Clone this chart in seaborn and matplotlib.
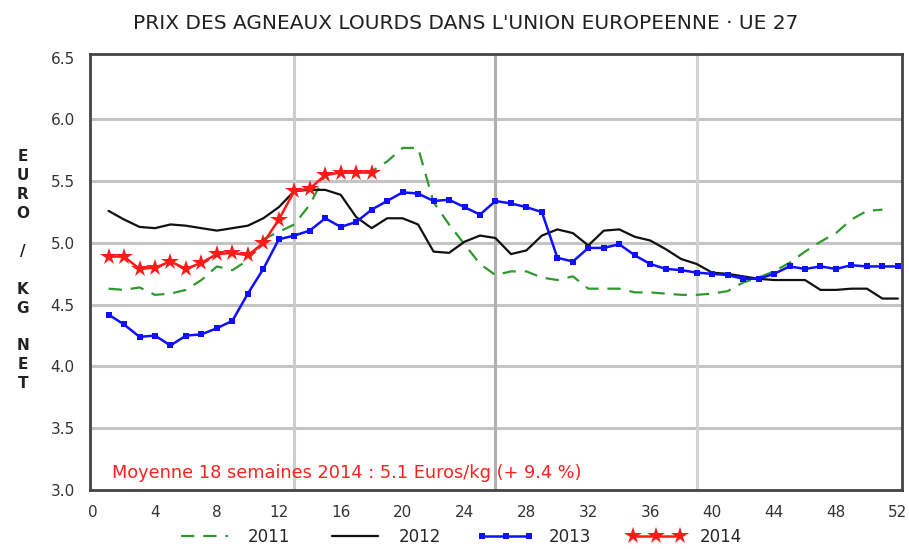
import numpy as np
import pandas as pd
import seaborn as sns
import matplotlib.pyplot as plt
from matplotlib.ticker import MultipleLocator

# weekly prices, euro / kg net
weeks = list(range(1, 53))

prix_2011 = [4.63, 4.62, 4.64, 4.58, 4.59, 4.62, 4.70, 4.81, 4.78, 4.86,
             5.03, 5.09, 5.15, 5.31, 5.55, 5.57, 5.57, 5.58, 5.66, 5.77,
             5.77, 5.33, 5.15, 4.99, 4.83, 4.74, 4.77, 4.77, 4.72, 4.70,
             4.73, 4.63, 4.63, 4.63, 4.60, 4.60, 4.59, 4.58, 4.58, 4.59,
             4.61, 4.68, 4.72, 4.77, 4.84, 4.93, 5.01, 5.08, 5.19, 5.26,
             5.27]

prix_2012 = [5.26, 5.19, 5.13, 5.12, 5.15, 5.14, 5.12, 5.10, 5.12, 5.14,
             5.20, 5.29, 5.42, 5.43, 5.43, 5.39, 5.21, 5.12, 5.20, 5.20,
             5.15, 4.93, 4.92, 5.01, 5.06, 5.04, 4.91, 4.94, 5.06, 5.11,
             5.08, 4.98, 5.10, 5.11, 5.05, 5.02, 4.95, 4.87, 4.83, 4.76,
             4.75, 4.73, 4.71, 4.70, 4.70, 4.70, 4.62, 4.62, 4.63, 4.63,
             4.55, 4.55]

prix_2013 = [4.42, 4.34, 4.24, 4.25, 4.17, 4.25, 4.26, 4.31, 4.37, 4.59,
             4.79, 5.03, 5.06, 5.10, 5.20, 5.13, 5.17, 5.27, 5.34, 5.41,
             5.40, 5.34, 5.35, 5.29, 5.23, 5.34, 5.32, 5.29, 5.25, 4.88,
             4.85, 4.96, 4.96, 4.99, 4.90, 4.83, 4.79, 4.78, 4.76, 4.75,
             4.74, 4.71, 4.71, 4.75, 4.81, 4.79, 4.81, 4.79, 4.82, 4.81,
             4.81, 4.81]

prix_2014 = [4.89, 4.89, 4.79, 4.80, 4.85, 4.79, 4.84, 4.91, 4.92, 4.90,
             5.00, 5.19, 5.42, 5.44, 5.55, 5.57, 5.57, 5.57]

sns.set_style("white")
plt.rcParams['font.family'] = ['DejaVu Sans']

fig = plt.figure(figsize=(9.09, 5.49), dpi=100)
ax = fig.add_axes([0.099, 0.1075, 0.893, 0.7941])

# gridlines first so the curves sit on top
for v in [3.5, 4.0, 4.5, 5.0, 5.5, 6.0]:
    ax.axhline(v, color='#c4c4c4', lw=2.2, zorder=0)
ax.axvline(13, color='#cccccc', lw=2.2, zorder=0)
ax.axvline(26, color='#b0b0b0', lw=2.2, zorder=0)
ax.axvline(39, color='#d4d4d4', lw=2.2, zorder=0)

sns.lineplot(x=weeks[:len(prix_2011)], y=prix_2011, ax=ax, color='#2e9a2e',
             lw=1.6, dashes=(6, 4), label='2011')
sns.lineplot(x=weeks, y=prix_2012, ax=ax, color='#111111', lw=1.6, label='2012')
sns.lineplot(x=weeks, y=prix_2013, ax=ax, color='#1010ff', lw=1.8,
             marker='s', markersize=5, markeredgewidth=0, label='2013')
sns.lineplot(x=weeks[:len(prix_2014)], y=prix_2014, ax=ax, color='#ff1a1a',
             lw=1.8, marker='*', markersize=13, markeredgewidth=0, label='2014')

ax.set_xlim(-0.2, 52.25)
ax.set_ylim(3.0, 6.53)
ax.xaxis.set_major_locator(MultipleLocator(4))
ax.xaxis.set_minor_locator(MultipleLocator(1))
ax.yaxis.set_major_locator(MultipleLocator(0.5))
ax.yaxis.set_minor_locator(MultipleLocator(0.25))
ax.yaxis.set_major_formatter(plt.FormatStrFormatter('%.1f'))
ax.tick_params(axis='both', which='major', direction='out', length=4, width=1.5,
               color='#222222', labelsize=11, labelcolor='#333333', pad=7)
ax.tick_params(axis='both', which='minor', direction='out', length=3, width=1.2,
               color='#444444')
ax.set_xlabel('')
ax.set_ylabel('')

for side in ['left', 'right', 'top', 'bottom']:
    ax.spines[side].set_visible(True)
    ax.spines[side].set_color('#444444')
    ax.spines[side].set_linewidth(2)

ax.text(1.2, 3.14, 'Moyenne 18 semaines 2014 : 5.1 Euros/kg (+ 9.4 %)',
        color='#ff2020', fontsize=12.8, ha='left', va='center')

fig.text(0.512, 0.958, "PRIX DES AGNEAUX LOURDS DANS L'UNION EUROPEENNE · UE 27",
         ha='center', va='center', fontsize=14.5, color='#222222')

fig.text(0.025, 0.508, 'E\nU\nR\nO\n\n/\n\nK\nG\n\nN\nE\nT',
         ha='center', va='center', fontsize=11, fontweight='bold',
         color='#222222', linespacing=1.33)

handles, labels = ax.get_legend_handles_labels()
ax.legend_.remove()
fig.legend(handles, labels, loc='lower center', bbox_to_anchor=(0.505, -0.012),
           ncol=4, frameon=False, fontsize=12, numpoints=3, handlelength=3.4,
           columnspacing=2.2, handletextpad=0.9, borderaxespad=0.2)

fig.savefig('out.png', dpi=100)
